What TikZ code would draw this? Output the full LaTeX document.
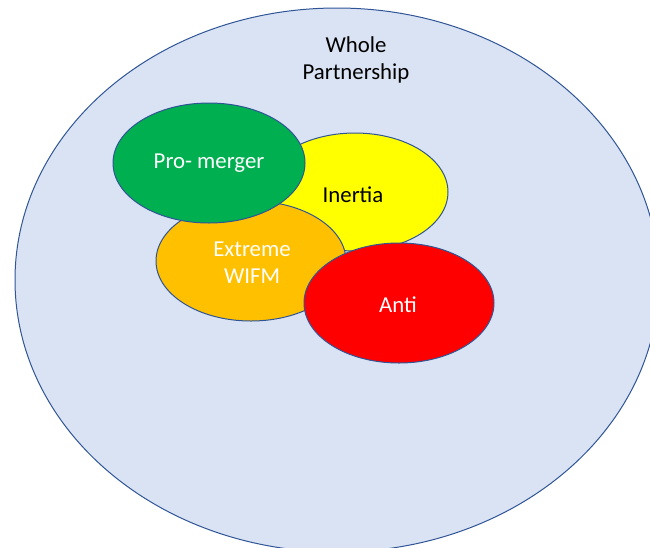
\documentclass[tikz,border=0pt]{standalone}
\usepackage{fontspec}
\setmainfont{Carlito}
\definecolor{bgfill}{HTML}{DAE3F3}
\definecolor{edge}{HTML}{2F5597}
\definecolor{cgreen}{HTML}{00B050}
\definecolor{cyellow}{HTML}{FFFF00}
\definecolor{corange}{HTML}{FFC000}
\definecolor{cred}{HTML}{FF0000}
\tikzset{
  blob/.style={draw=edge, line width=1pt},
  lbl/.style={font=\fontsize{22.8}{27.5}\selectfont, align=center, inner sep=0pt},
}
\begin{document}
\begin{tikzpicture}[x=1pt,y=-1pt]
\useasboundingbox (0,0) rectangle (650,547);
\begin{scope}
\clip (0,0) rectangle (650,547);
\draw[blob, fill=bgfill] (337,280) ellipse [x radius=322, y radius=272];
\end{scope}
\draw[blob, fill=cyellow] (355,192) ellipse [x radius=93, y radius=59];
\draw[blob, fill=corange] (251,261) ellipse [x radius=95, y radius=60];
\draw[blob, fill=cgreen] (209,163) ellipse [x radius=96, y radius=60];
\draw[blob, fill=cred] (399,303) ellipse [x radius=95, y radius=60];
\node[lbl, text=black] (whole) at (356,60) {Whole\\Partnership};
\node[lbl, text=black] (inertia) at (353,195) {Inertia};
\node[lbl, text=white] (pro) at (209,163) {Pro- merger};
\node[lbl, text=white] (wifm) at (252,262.5) {Extreme\\WIFM};
\node[lbl, text=white] (anti) at (398,305) {Anti};
\end{tikzpicture}
\end{document}
